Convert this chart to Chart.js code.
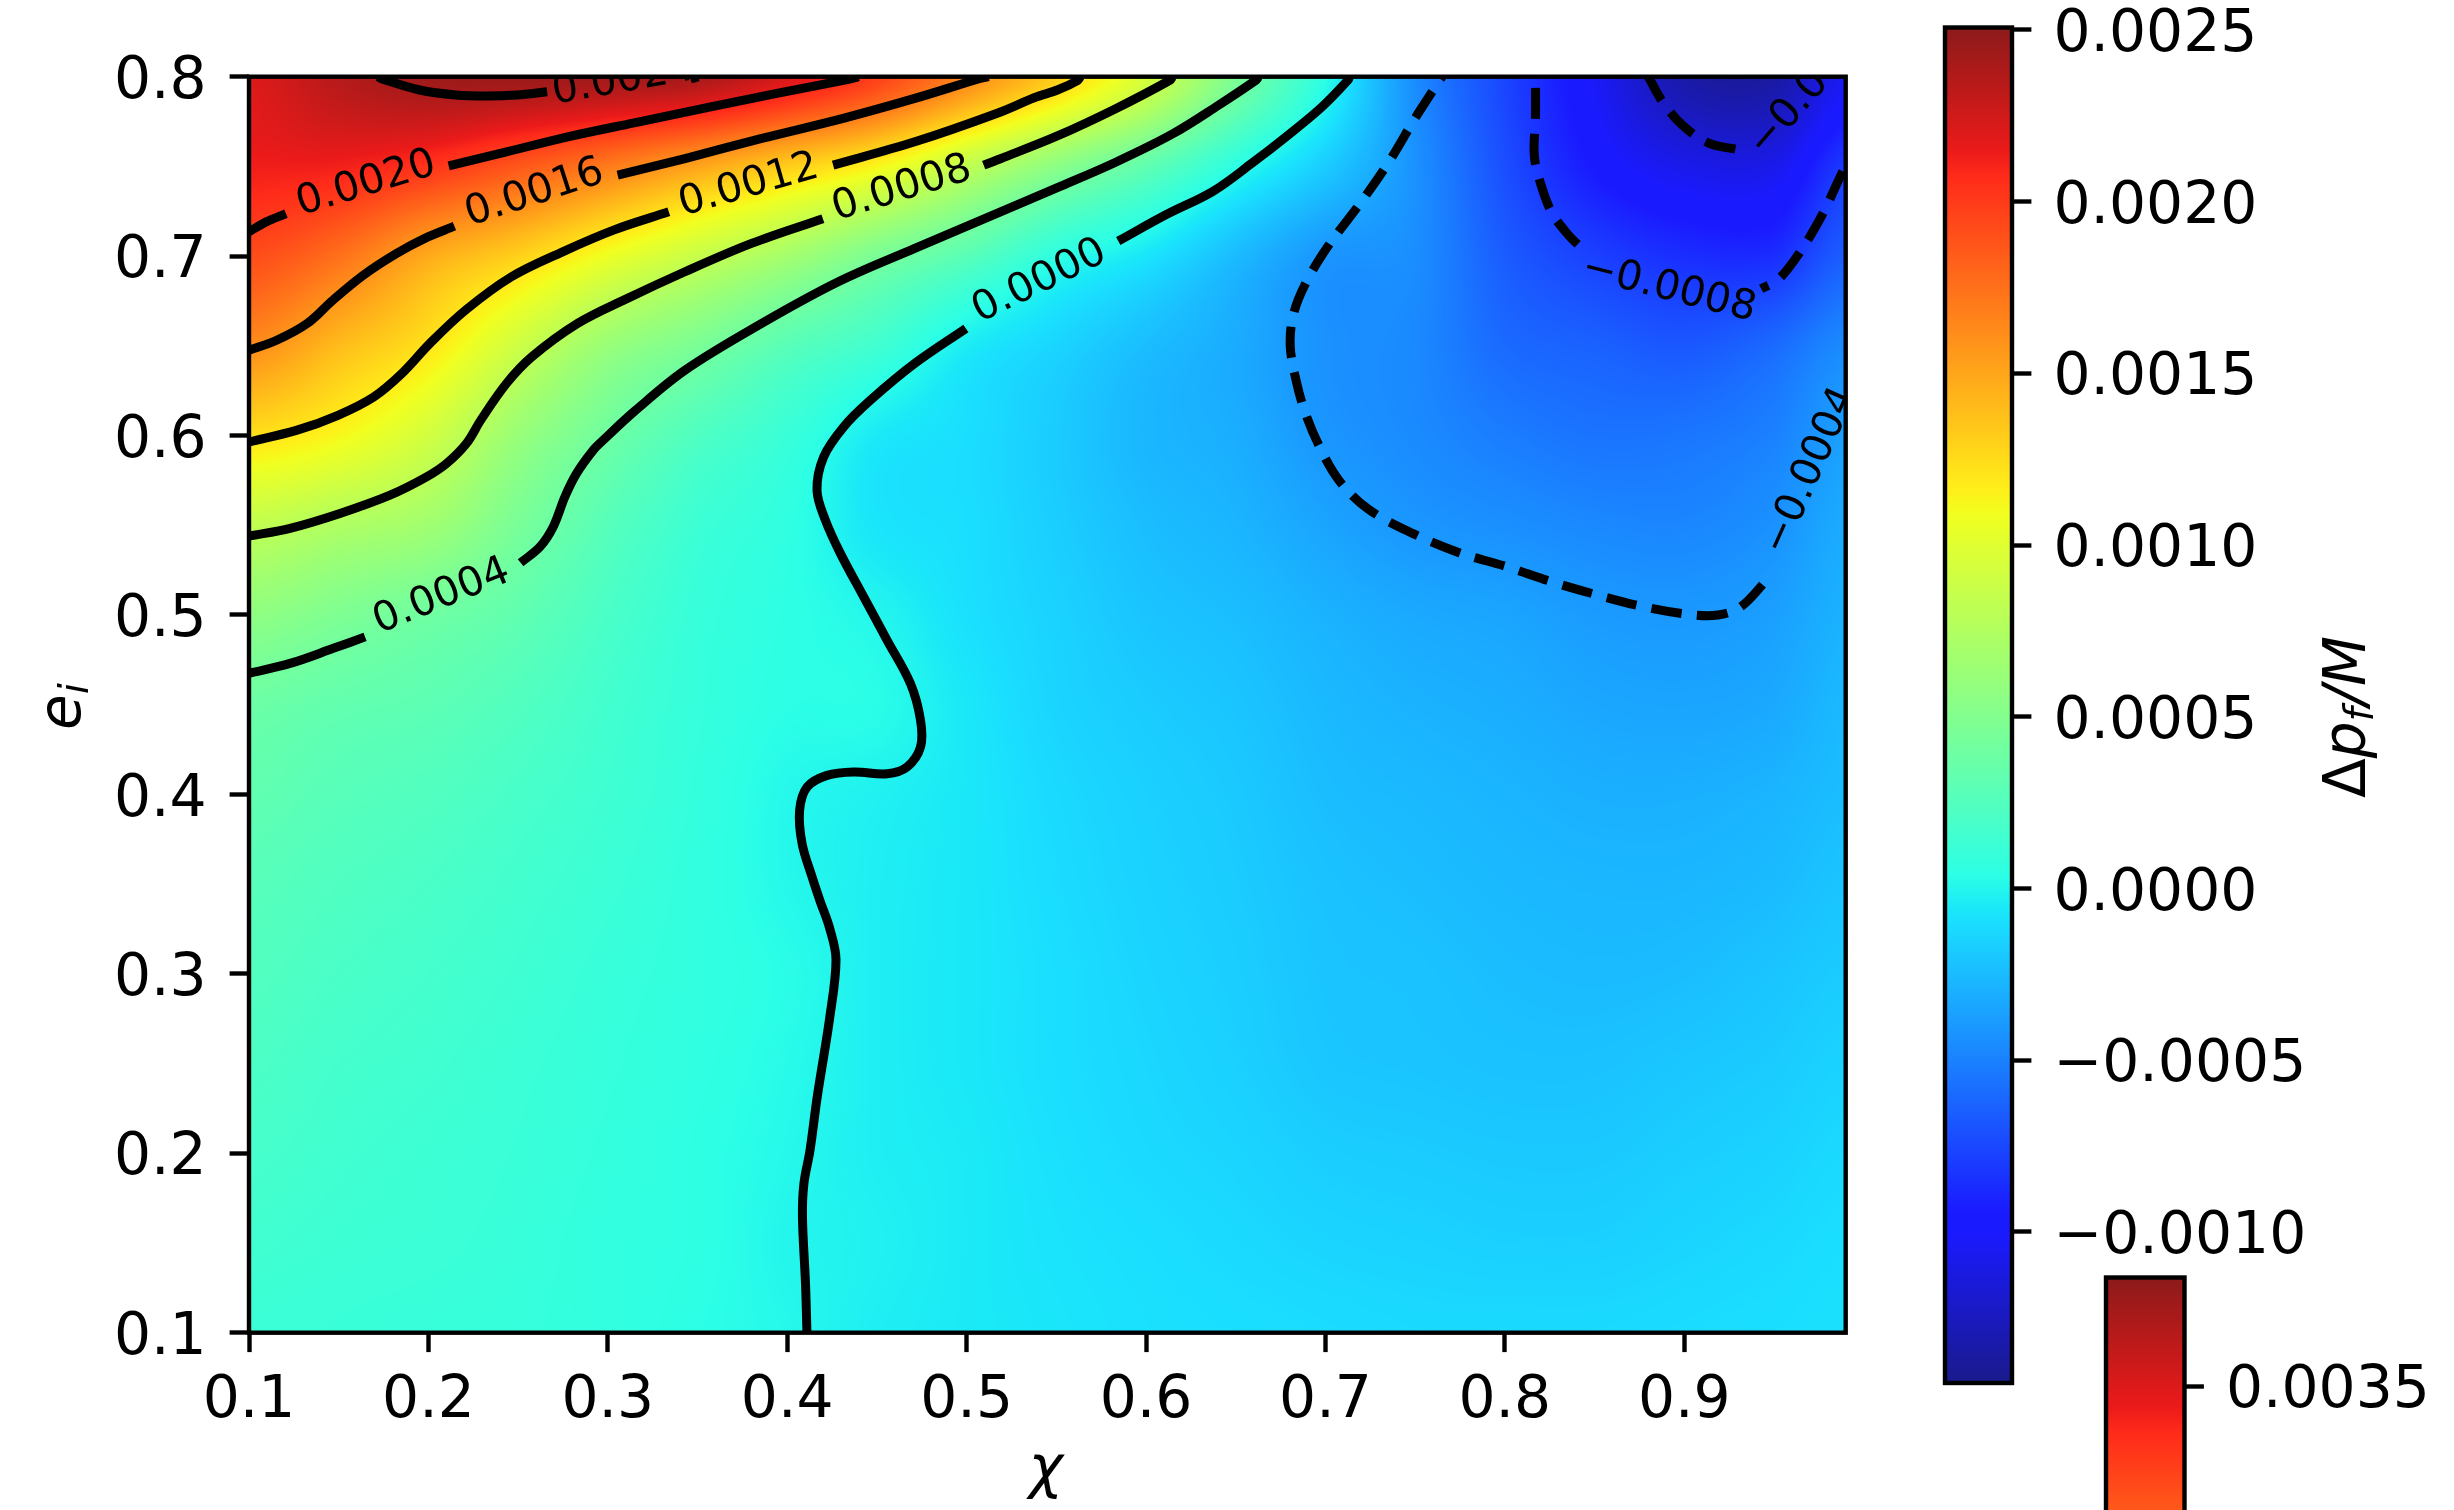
<!DOCTYPE html>
<html>
<head>
<meta charset="utf-8">
<style>
html,body{margin:0;padding:0;width:2454px;height:1510px;overflow:hidden;background:#fff}
canvas{position:absolute;left:0;top:0;display:block}
</style>
<script src="https://cdn.jsdelivr.net/npm/chart.js@4/dist/chart.umd.min.js"></script>
</head>
<body>
<canvas id="main" width="2454" height="1510"></canvas>
<canvas id="bar1" width="2454" height="1510"></canvas>
<canvas id="bar2" width="2454" height="1560"></canvas>
<script>
// ---------- values ----------
const xTicks = [0.1,0.2,0.3,0.4,0.5,0.6,0.7,0.8,0.9];
const yTicks = [0.1,0.2,0.3,0.4,0.5,0.6,0.7,0.8];
const barTicks = [-0.0010,-0.0005,0,0.0005,0.0010,0.0015,0.0020,0.0025];
const bar2Ticks = [0.0035];
const colorMin = -0.00144, colorMax = 0.002507;
const bar2Min = 0.003101, bar2Max = 0.003749, bar2ColorMin = 0.000497;

const gridX = [0.1,0.15,0.2,0.25,0.3,0.35,0.4,0.45,0.5,0.55,0.6,0.65,0.7,0.75,0.8,0.85,0.9,0.95,0.99];
const gridY = [0.8,0.75,0.7,0.65,0.6,0.55,0.5,0.45,0.4,0.35,0.3,0.25,0.2,0.15,0.1];
// field values, unit 1e-5, one row per gridY entry
const fieldRows = [
[220,235,244,245,243,240,222,198,165,132,95,47,4,-45,-76,-103,-133,-135,-105],
[213,212,203,187,170,151,132,113,83,55,32,5,-18,-43,-72,-95,-108,-108,-81],
[192,175,148,130,107,87,68,46,28,6,-7,-25,-41,-45,-66,-78,-86,-86,-65],
[162,140,121,90,62,46,28,15,-4,-14,-24,-32,-43,-47,-60,-64,-68,-60,-46],
[123,112,92,62,40,23,11,-5,-10,-18,-27,-31,-41,-46,-52,-56,-55,-50,-37],
[84,74,66,45,27,13,6,-7,-10,-17,-24,-28,-35,-41,-44,-47,-48,-43,-32],
[57,48,40,32,20,10,5,0,-9,-15,-21,-24,-29,-33,-35,-39,-40,-37,-29],
[38,33,30,24,16,9,4,3,-6,-14,-18,-21,-26,-29,-31,-34,-35,-33,-26],
[32,27,24,19,14,8,1,-2,-6,-12,-16,-19,-24,-26,-28,-30,-30,-28,-24],
[27,23,20,16,12,7,1,-3,-6,-11,-15,-18,-22,-24,-26,-27,-27,-25,-21],
[24,20,17,14,10,7,3,-3,-6,-10,-14,-17,-21,-22,-24,-25,-24,-21,-18],
[21,17,15,12,9,6,2,-3,-6,-10,-13,-16,-20,-21,-22,-22,-20,-18,-15],
[18,15,13,11,8,5,1,-3,-5,-9,-12,-14,-17,-18,-19,-19,-17,-15,-12],
[15,13,12,10,7,5,0,-2,-5,-8,-10,-12,-14,-15,-16,-16,-14,-12,-10],
[12,11,10,9,7,4,1,-3,-5,-7,-9,-10,-11,-12,-12,-12,-11,-10,-9]
];

// contour lines as [chi, e_i], split where a label interrupts them
const level0024a = [[.1716,.8],[.175,.7985],[.1951,.7926],[.2152,.7898],[.2321,.7892],[.2492,.7898],[.2662,.7916]];
const level0024b = [[.3461,.7987],[.3504,.8]];
const level0020a = [[.1,.7136],[.1096,.7191],[.1206,.7237]];
const level0020b = [[.2113,.7503],[.2435,.7581],[.2777,.7665],[.3147,.7743],[.3573,.7832],[.3942,.7907],[.4342,.7985],[.4398,.8]];
const level0016a = [[.1,.6475],[.1154,.6531],[.1325,.6625],[.1468,.6755],[.1638,.6894],[.1823,.7015],[.198,.7099],[.2145,.7167]];
const level0016b = [[.3055,.7451],[.343,.7544],[.3858,.7656],[.4312,.7768],[.4711,.7879],[.5075,.799],[.5123,.8]];
const level0012a = [[.1,.5964],[.1268,.603],[.1496,.6113],[.1695,.6215],[.1852,.6346],[.2008,.6513],[.2207,.6699],[.2463,.6885],[.2748,.7024],[.3032,.7145],[.334,.7247]];
const level0012b = [[.4256,.7507],[.4711,.7637],[.5167,.7795],[.538,.7884],[.5509,.7927],[.562,.798],[.5634,.8]];
const level0008a = [[.1,.544],[.1229,.5483],[.1507,.5566],[.1786,.5668],[.199,.577],[.2102,.5845],[.2213,.5957],[.2292,.6086],[.2435,.629],[.2577,.6439],[.2832,.6625],[.3089,.6755],[.343,.6913],[.3801,.7071],[.4199,.7209]];
const level0008b = [[.5095,.7507],[.5189,.7543],[.5509,.7671],[.5828,.782],[.6133,.798],[.6148,.8]];
const level0004a = [[.1,.4675],[.1229,.473],[.147,.4814],[.1647,.4878]];
const level0004b = [[.2514,.5291],[.2622,.538],[.2696,.5492],[.2761,.5659],[.2826,.5789],[.2919,.5919],[.2975,.5975],[.3147,.6134],[.343,.6364],[.3858,.6625],[.4285,.6857],[.4711,.7043],[.5189,.7247],[.5509,.7383],[.5828,.7522],[.6148,.7681],[.6404,.7841],[.6612,.798],[.6628,.8]];
const level0000a = [[.4996,.6597],[.4711,.6402],[.4464,.6197],[.4315,.6049],[.4203,.5881],[.4166,.5695],[.4213,.5528],[.4297,.5342],[.4427,.51],[.4557,.4859],[.4687,.4618],[.4743,.4414],[.4743,.4264],[.4668,.4153],[.4557,.4115],[.4371,.4125],[.4222,.4106],[.4111,.4041],[.4069,.3911],[.4083,.3725],[.4139,.3539],[.4182,.3409],[.4237,.3253],[.4272,.3079],[.4237,.2756],[.4168,.2319],[.4127,.2016],[.4093,.183],[.4085,.1644],[.4102,.1272],[.411,.1]];
const level0000b = [[.5845,.7084],[.6116,.7233],[.6373,.7361],[.6596,.7522],[.6788,.7671],[.698,.7831],[.7125,.798],[.7134,.8]];
const levelM0004 = [[.7652,.8],[.7636,.798],[.7588,.7906],[.7492,.7756],[.7365,.7543],[.7204,.7308],[.7012,.7052],[.6885,.6839],[.682,.6668],[.6804,.6497],[.6837,.6305],[.6885,.6134],[.6965,.5942],[.7076,.575],[.7237,.5591],[.7492,.5452],[.7749,.5346],[.8005,.5271],[.8261,.5185],[.8517,.5111],[.8773,.5046],[.9029,.5003],[.9188,.5],[.9316,.5046],[.946,.5195]];
const levelM0008a = [[.8171,.8],[.8171,.7777],[.8164,.7564],[.8196,.7415],[.8261,.7244],[.8356,.7116],[.8421,.7052]];
const levelM0008b = [[.9429,.6818],[.9525,.6871],[.9637,.701],[.9765,.7223],[.9876,.7457],[.99,.7503]];
const levelM0012 = [[.88,.8],[.8884,.7853],[.8996,.7724],[.914,.7628],[.9285,.7596]];

const solidLevels = [level0024a,level0024b,level0020a,level0020b,level0016a,level0016b,level0012a,level0012b,level0008a,level0008b,level0004a,level0004b,level0000a,level0000b];
const dashedLevels = [levelM0004,levelM0008a,levelM0008b,levelM0012];
const dashOffsets = [28,35,23,4];

const labelTexts  = ['0.0024','0.0020','0.0016','0.0012','0.0008','0.0004','0.0000','\u22120.0004','\u22120.0008','\u22120.0012'];
const labelX      = [.3086,.1653,.2592,.3786,.464,.2074,.5407,.9703,.8914,.9726];
const labelY      = [.7977,.7401,.7349,.7392,.7373,.5101,.6857,.5802,.6817,.796];
const labelAngles = [-10,-17,-18,-16,-17,-22,-26,-66,14,-49];

// ---------- colour map ----------
const FONT = "'DejaVu Sans'";
const TICK_PX = 58.3;
function seg(t,pts){
  for(let i=1;i<pts.length;i++){ if(t<=pts[i][0]){const a=pts[i-1],b=pts[i];return a[1]+(b[1]-a[1])*(t-a[0])/(b[0]-a[0]);} }
  return pts[pts.length-1][1];
}
const R=[[0,0],[.35,0],[.66,1],[.89,1],[1,.5]];
const G=[[0,0],[.125,0],[.375,1],[.64,1],[.91,0],[1,0]];
const B=[[0,.5],[.11,1],[.34,1],[.65,0],[1,0]];
function jet(t){
  t=Math.max(0,Math.min(1,t));
  const mix=c=>Math.round(c*255*0.9+255*0.1);
  return [mix(seg(t,R)),mix(seg(t,G)),mix(seg(t,B))];
}

// ---------- plugins ----------
const framePlugin={id:'frame',afterDraw(chart){
  const a=chart.chartArea,c=chart.ctx;
  c.save();c.strokeStyle='#000';c.lineWidth=4.4;c.strokeRect(a.left,a.top,a.right-a.left,a.bottom-a.top);c.restore();
}};
// digits sit a little lower against their tick than a middle baseline puts them
const labelShift={id:'labelShift',beforeDraw(chart){
  const s=chart.scales.y;
  s.getLabelItems(chart.chartArea).forEach(it=>{ if(!it.shifted){it.textOffset+=6;it.shifted=true;} });
}};

function cr(p0,p1,p2,p3,t){return p1+0.5*t*(p2-p0+t*(2*p0-5*p1+4*p2-p3+t*(3*(p1-p2)+p3-p0)));}
function indexIn(arr,v){
  const asc=arr[1]>arr[0];
  for(let i=0;i<arr.length-1;i++){
    const a=arr[i],b=arr[i+1];
    if(asc? v<=b : v>=b) return i+(v-a)/(b-a);
  }
  return arr.length-1;
}
const heatPlugin={id:'heat',beforeDatasetsDraw(chart){
  const pts=chart.data.datasets[0].data;
  const nx=gridX.length,ny=gridY.length;
  const val=(j,i)=>pts[Math.max(0,Math.min(ny-1,j))*nx+Math.max(0,Math.min(nx-1,i))].v;
  const sx=chart.scales.x,sy=chart.scales.y,a=chart.chartArea;
  const x0=Math.floor(a.left),y0=Math.floor(a.top),w=Math.ceil(a.right)-x0,h=Math.ceil(a.bottom)-y0;
  const off=document.createElement('canvas');off.width=w;off.height=h;
  const oc=off.getContext('2d'),img=oc.createImageData(w,h);
  const xi=[];for(let px=0;px<w;px++)xi.push(indexIn(gridX,Math.min(.99,Math.max(.1,sx.getValueForPixel(x0+px+.5)))));
  for(let py=0;py<h;py++){
    const fy=indexIn(gridY,Math.min(.8,Math.max(.1,sy.getValueForPixel(y0+py+.5))));
    const j=Math.min(ny-2,Math.floor(fy)),ty=fy-j;
    for(let px=0;px<w;px++){
      const i=Math.min(nx-2,Math.floor(xi[px])),tx=xi[px]-i;
      const col=[];
      for(let k=-1;k<=2;k++) col.push(cr(val(j+k,i-1),val(j+k,i),val(j+k,i+1),val(j+k,i+2),tx));
      const v=cr(col[0],col[1],col[2],col[3],ty);
      const rgb=jet((v-colorMin)/(colorMax-colorMin));
      const o=(py*w+px)*4;img.data[o]=rgb[0];img.data[o+1]=rgb[1];img.data[o+2]=rgb[2];img.data[o+3]=255;
    }
  }
  oc.putImageData(img,0,0);
  chart.ctx.drawImage(off,x0,y0);
}};

const labelPlugin={id:'contourLabels',afterDatasetsDraw(chart){
  const c=chart.ctx,a=chart.chartArea,sx=chart.scales.x,sy=chart.scales.y;
  c.save();c.beginPath();c.rect(a.left,a.top,a.right-a.left,a.bottom-a.top);c.clip();
  c.fillStyle='#000';c.font='41px '+FONT;c.textAlign='center';c.textBaseline='middle';
  labelTexts.forEach((t,i)=>{
    c.save();c.translate(sx.getPixelForValue(labelX[i]),sy.getPixelForValue(labelY[i]));
    c.rotate(labelAngles[i]*Math.PI/180);c.fillText(t,0,0);c.restore();
  });
  c.restore();
}};

function mathRun(c,x,y,rot,parts){
  c.save();c.translate(x,y);c.rotate(rot);c.fillStyle='#000';c.textAlign='left';c.textBaseline='alphabetic';
  let pos=0;
  parts.forEach(p=>{
    c.font=(p.italic?'italic ':'')+p.size+'px '+FONT;
    c.fillText(p.t,pos,p.drop||0);
    pos+=c.measureText(p.t).width+(p.gap||0);
  });
  c.restore();
}
const mainTitles={id:'mainTitles',afterDraw(chart){
  const c=chart.ctx;
  c.save();c.fillStyle='#000';c.font='italic 58px '+FONT;c.textAlign='center';c.textBaseline='alphabetic';
  c.fillText('\u03C7',1046,1487);c.restore();
  mathRun(c,80,730,-Math.PI/2,[{t:'e',italic:true,size:58},{t:'i',italic:true,size:40,drop:8}]);
}};
const barTitle={id:'barTitle',afterDraw(chart){
  mathRun(chart.ctx,2365,798,-Math.PI/2,[
    {t:'\u0394',size:58},{t:'p',italic:true,size:58},{t:'f',italic:true,size:40,drop:8,gap:2},
    {t:'/',italic:true,size:58},{t:'M',italic:true,size:58}]);
}};

// ---------- charts ----------
const heatData=[];
gridY.forEach((y,j)=>gridX.forEach((x,i)=>heatData.push({x,y,v:fieldRows[j][i]*1e-5})));
const toXY=l=>l.map(p=>({x:p[0],y:p[1]}));
const contourSet=(l,dash,off)=>({type:'scatter',data:toXY(l),showLine:true,pointRadius:0,pointHoverRadius:0,
  borderColor:'#000',borderWidth:9,borderDash:dash,borderDashOffset:off||0,borderCapStyle:'butt',borderJoinStyle:'round',tension:0.35,clip:0,fill:false});
const noMargins=s=>{s.paddingTop=0;s.paddingBottom=0;s.paddingLeft=0;s.paddingRight=0;};

const tickBase={font:{family:FONT,size:TICK_PX},color:'#000',autoSkip:false,maxRotation:0,minRotation:0};
const gridBase={drawOnChartArea:false,drawTicks:true,tickLength:19.4,tickWidth:4.4,tickColor:'#000',color:'#000'};

new Chart(document.getElementById('main'),{
  type:'scatter',
  data:{datasets:[
    {label:'field',data:heatData,pointRadius:0,pointHoverRadius:0,showLine:false},
    ...solidLevels.map(l=>contourSet(l,[])),
    ...dashedLevels.map((l,i)=>contourSet(l,[31,15],dashOffsets[i]))
  ]},
  options:{
    responsive:false,animation:false,devicePixelRatio:1,
    layout:{padding:{left:0,top:76.7,right:608.3,bottom:0}},
    plugins:{legend:{display:false},tooltip:{enabled:false},title:{display:false}},
    scales:{
      x:{type:'linear',position:'bottom',min:0.1,max:0.99,
        afterBuildTicks:s=>{s.ticks=xTicks.map(v=>({value:v}));},
        afterFit:s=>{s.height=177.3;noMargins(s);},
        border:{display:false},grid:gridBase,
        ticks:{...tickBase,padding:15,callback:v=>v.toFixed(1)}},
      y:{type:'linear',position:'left',min:0.1,max:0.8,
        afterBuildTicks:s=>{s.ticks=yTicks.map(v=>({value:v}));},
        afterFit:s=>{s.width=249;noMargins(s);},
        border:{display:false},grid:gridBase,
        ticks:{...tickBase,padding:23,callback:v=>v.toFixed(1)}}
    }
  },
  plugins:[heatPlugin,labelPlugin,labelShift,framePlugin,mainTitles]
});

function colorBar(id,lo,hi,colorLo,colorHi,ticks,padding,width,extra){
  return new Chart(document.getElementById(id),{
    type:'bar',
    data:{labels:['colorbar'],datasets:[{
      data:[[lo,hi]],barPercentage:1,categoryPercentage:1,borderWidth:0,
      backgroundColor:ctx=>{
        const ch=ctx.chart,s=ch.scales.y;
        if(!s||!ch.chartArea) return '#000';
        const g=ch.ctx.createLinearGradient(0,s.bottom,0,s.top);
        const n=256;
        for(let i=0;i<=n;i++){
          const v=lo+(hi-lo)*i/n;
          const c=jet((v-colorLo)/(colorHi-colorLo));
          g.addColorStop(i/n,'rgb('+c.join(',')+')');
        }
        return g;
      }
    }]},
    options:{
      responsive:false,animation:false,devicePixelRatio:1,
      layout:{padding},
      plugins:{legend:{display:false},tooltip:{enabled:false},title:{display:false}},
      scales:{
        x:{display:false},
        y:{type:'linear',position:'right',min:lo,max:hi,
          afterBuildTicks:s=>{s.ticks=ticks.map(v=>({value:v}));},
          afterFit:s=>{s.width=width;noMargins(s);},
          border:{display:false},grid:gridBase,
          ticks:{...tickBase,padding:22,callback:v=>(v<0?'\u2212':'')+Math.abs(v).toFixed(4)}}
      }
    },
    plugins:[labelShift,framePlugin,...extra]
  });
}
colorBar('bar1',colorMin,colorMax,colorMin,colorMax,barTicks,{left:1945,top:27.5,right:0,bottom:127},442,[barTitle]);
colorBar('bar2',bar2Min,bar2Max,bar2ColorMin,bar2Max,bar2Ticks,{left:2106,top:1277.5,right:0,bottom:0},269.5,[]);
</script>
</body>
</html>
